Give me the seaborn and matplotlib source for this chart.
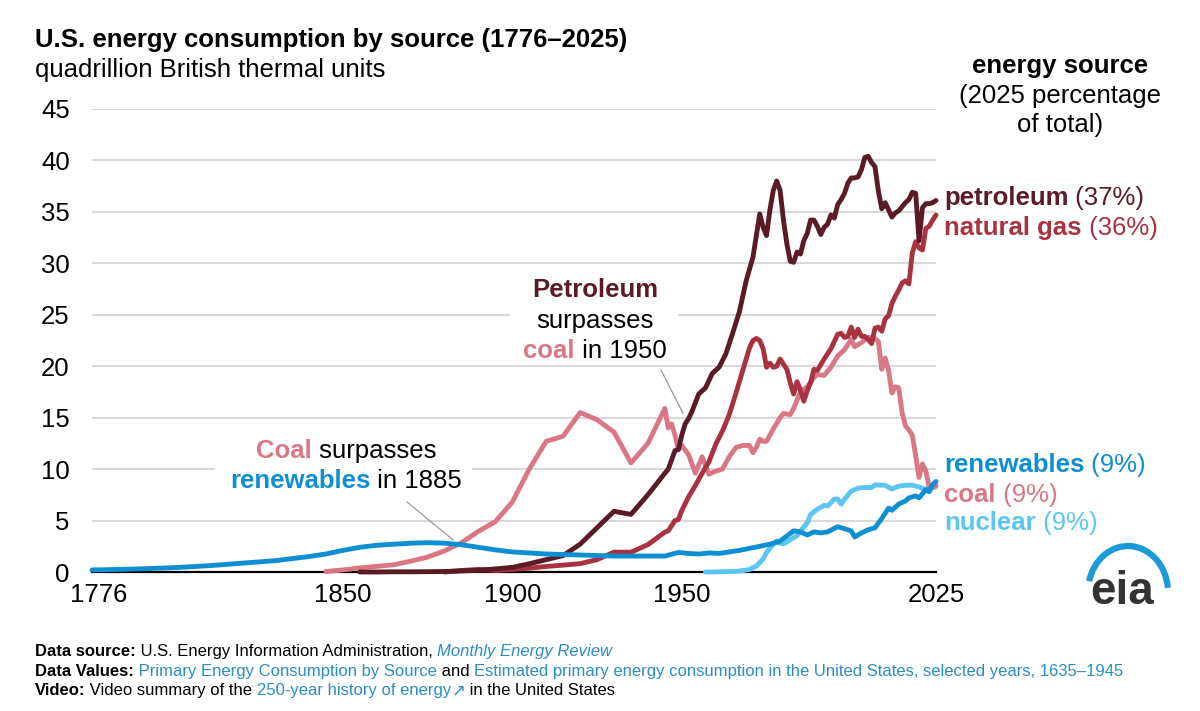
import numpy as np
import pandas as pd
import seaborn as sns
import matplotlib.pyplot as plt
import matplotlib.transforms as mtransforms
from matplotlib import font_manager
from matplotlib.patches import Rectangle, Arc

# ---- data (quadrillion Btu) ----
renew_years = [1776, 1780, 1790, 1800, 1810, 1820, 1830, 1840, 1845, 1850, 1855, 1860, 1865,
               1870, 1875, 1880, 1885, 1890, 1895, 1900, 1905, 1910, 1915, 1920, 1925, 1930,
               1935, 1940, 1945, 1949, 1952, 1955, 1958, 1961, 1964, 1967, 1970, 1973, 1976,
               1979, 1981, 1983, 1985, 1987, 1989, 1991, 1993, 1996, 1998, 2000, 2001, 2003,
               2005, 2007, 2009, 2011, 2012, 2014, 2016, 2017, 2019, 2020, 2021, 2022, 2023,
               2024, 2025]
renew_vals = [0.2, 0.22, 0.3, 0.42, 0.6, 0.85, 1.1, 1.5, 1.75, 2.1, 2.4, 2.6, 2.7,
              2.8, 2.85, 2.8, 2.65, 2.4, 2.15, 1.95, 1.85, 1.75, 1.7, 1.65, 1.6, 1.55,
              1.55, 1.55, 1.55, 1.9, 1.8, 1.75, 1.85, 1.8, 1.95, 2.1, 2.3, 2.5, 2.7,
              3.0, 3.5, 4.0, 3.9, 3.6, 3.9, 3.8, 3.9, 4.4, 4.2, 4.0, 3.4, 3.8,
              4.1, 4.3, 5.2, 6.2, 6.0, 6.6, 6.9, 7.2, 7.4, 7.2, 7.6, 8.0, 7.8,
              8.5, 8.8]

coal_years = [1845, 1850, 1855, 1860, 1865, 1870, 1875, 1880, 1885, 1890, 1895, 1900, 1905,
              1910, 1915, 1920, 1925, 1930, 1935, 1940, 1945, 1946, 1947, 1948, 1949, 1950,
              1952, 1954, 1956, 1958, 1960, 1962, 1964, 1966, 1968, 1970, 1971, 1972, 1973,
              1974, 1975, 1977, 1979, 1980, 1982, 1983, 1985, 1987, 1989, 1990, 1992, 1994,
              1996, 1998, 2000, 2001, 2003, 2005, 2007, 2008, 2009, 2010, 2011, 2012, 2013,
              2014, 2015, 2016, 2017, 2018, 2019, 2020, 2021, 2022, 2023, 2024, 2025]
coal_vals = [0.05, 0.2, 0.4, 0.55, 0.7, 1.05, 1.45, 2.05, 2.85, 3.95, 4.9, 6.8, 10.0,
             12.7, 13.2, 15.5, 14.8, 13.6, 10.6, 12.5, 15.9, 14.0, 14.4, 13.3, 11.9, 12.3,
             11.4, 9.6, 11.2, 9.5, 9.8, 10.0, 11.2, 12.1, 12.3, 12.3, 11.6, 12.1, 12.9,
             12.7, 12.7, 13.9, 15.0, 15.4, 15.3, 15.9, 17.5, 18.0, 18.9, 19.2, 19.1, 19.9,
             21.0, 21.6, 22.6, 21.9, 22.3, 22.8, 22.7, 22.4, 19.7, 20.8, 19.6, 17.4, 18.0,
             17.9, 15.5, 14.2, 13.8, 13.3, 11.3, 9.2, 10.5, 9.8, 8.2, 8.2, 8.4]

pet_years = [1855, 1860, 1865, 1870, 1875, 1880, 1885, 1890, 1895, 1900, 1905, 1910, 1915,
             1920, 1925, 1930, 1935, 1940, 1945, 1946, 1947, 1948, 1949, 1950, 1951, 1952,
             1953, 1955, 1957, 1959, 1961, 1963, 1965, 1967, 1969, 1971, 1973, 1974, 1975,
             1976, 1977, 1978, 1979, 1980, 1981, 1982, 1983, 1984, 1985, 1986, 1987, 1988,
             1989, 1990, 1991, 1992, 1993, 1994, 1995, 1996, 1997, 1998, 1999, 2000, 2001,
             2002, 2003, 2004, 2005, 2006, 2007, 2008, 2009, 2010, 2011, 2012, 2013, 2014,
             2015, 2016, 2017, 2018, 2019, 2020, 2021, 2022, 2023, 2024, 2025]
pet_vals = [0.0, 0.0, 0.02, 0.02, 0.03, 0.05, 0.1, 0.16, 0.3, 0.45, 0.8, 1.2, 1.6,
            2.7, 4.3, 5.9, 5.6, 7.5, 9.6, 10.0, 10.9, 11.8, 11.9, 13.3, 14.4, 14.9,
            15.6, 17.3, 17.9, 19.3, 19.9, 21.2, 23.2, 25.3, 28.3, 30.6, 34.8, 33.5, 32.7,
            35.2, 37.1, 38.0, 37.1, 34.2, 31.9, 30.2, 30.1, 31.1, 30.9, 32.2, 32.9, 34.2,
            34.2, 33.6, 32.8, 33.5, 33.8, 34.7, 34.4, 35.7, 36.2, 36.8, 37.8, 38.3, 38.3,
            38.4, 39.1, 40.3, 40.4, 39.8, 39.4, 37.0, 35.3, 35.9, 35.2, 34.5, 34.9, 35.1,
            35.5, 35.9, 36.2, 36.9, 36.8, 32.2, 35.4, 35.8, 35.8, 35.9, 36.1]

gas_years = [1880, 1885, 1890, 1895, 1900, 1905, 1910, 1915, 1920, 1925, 1930, 1935, 1940,
             1945, 1946, 1947, 1948, 1949, 1950, 1952, 1954, 1956, 1958, 1960, 1962, 1964,
             1966, 1968, 1970, 1971, 1972, 1973, 1974, 1975, 1976, 1977, 1978, 1979, 1980,
             1981, 1982, 1983, 1984, 1985, 1986, 1987, 1988, 1989, 1990, 1992, 1994, 1996,
             1997, 1998, 1999, 2000, 2001, 2002, 2003, 2004, 2005, 2006, 2007, 2008, 2009,
             2010, 2011, 2012, 2013, 2014, 2015, 2016, 2017, 2018, 2019, 2020, 2021, 2022,
             2023, 2024, 2025]
gas_vals = [0.0, 0.15, 0.25, 0.15, 0.25, 0.37, 0.54, 0.67, 0.81, 1.2, 1.93, 1.92, 2.66,
            3.87, 4.0, 4.5, 5.0, 5.1, 5.97, 7.3, 8.4, 9.6, 10.7, 12.4, 13.7, 15.3,
            17.4, 19.6, 21.8, 22.5, 22.7, 22.5, 21.7, 19.9, 20.3, 19.9, 20.0, 20.7, 20.2,
            19.7, 18.4, 17.3, 18.5, 17.7, 16.6, 17.6, 18.4, 19.7, 19.6, 20.7, 21.7, 23.1,
            23.2, 22.8, 22.9, 23.8, 22.8, 23.6, 22.9, 22.9, 22.6, 22.2, 23.7, 23.8, 23.4,
            24.6, 24.9, 26.1, 26.8, 27.4, 28.1, 28.3, 28.0, 31.0, 32.1, 31.5, 31.3, 33.4,
            33.6, 34.2, 34.7]

nuc_years = [1957, 1960, 1963, 1966, 1968, 1970, 1972, 1973, 1974, 1975, 1977, 1978, 1979,
             1980, 1982, 1984, 1986, 1987, 1988, 1990, 1992, 1993, 1995, 1996, 1997, 1998,
             2000, 2002, 2004, 2006, 2007, 2010, 2012, 2014, 2016, 2018, 2020, 2021, 2022,
             2023, 2024, 2025]
nuc_vals = [0.0, 0.01, 0.04, 0.06, 0.14, 0.24, 0.58, 0.91, 1.27, 1.9, 2.7, 3.0, 2.78,
            2.74, 3.13, 3.55, 4.38, 4.75, 5.59, 6.1, 6.48, 6.41, 7.08, 7.09, 6.6, 7.07,
            7.86, 8.14, 8.22, 8.21, 8.46, 8.43, 8.06, 8.34, 8.43, 8.44, 8.25, 8.13, 8.06,
            8.1, 8.2, 8.3]

sources = ["nuclear", "coal", "natural gas", "petroleum", "renewables"]
colors = {"petroleum": "#5a1a26", "natural gas": "#a83240", "coal": "#d97884",
          "renewables": "#0f8fd2", "nuclear": "#5bc6f2"}
shares = {"petroleum": "37%", "natural gas": "36%", "renewables": "9%", "coal": "9%", "nuclear": "9%"}
x_ticks = [1776, 1850, 1900, 1950, 2025]
y_ticks = list(range(0, 50, 5))

frames = []
for name, yrs, vals in [("renewables", renew_years, renew_vals), ("coal", coal_years, coal_vals),
                        ("petroleum", pet_years, pet_vals), ("natural gas", gas_years, gas_vals),
                        ("nuclear", nuc_years, nuc_vals)]:
    frames.append(pd.DataFrame({"year": yrs, "quads": vals, "source": name}))
df = pd.concat(frames, ignore_index=True)

sns.set_theme(style="white")
plt.rcParams["font.family"] = ["Liberation Sans", "DejaVu Sans"]

W, H = 1200, 711
fig = plt.figure(figsize=(12, 7.11), dpi=100)
ax = fig.add_axes([92 / W, (H - 572) / H, (936 - 92) / W, (572 - 109) / H])

sns.lineplot(data=df, x="year", y="quads", hue="source", hue_order=sources, palette=colors,
             linewidth=3.5, estimator=None, errorbar=None, legend=False, ax=ax)
for ln in ax.lines:
    ln.set_clip_on(False)
    ln.set_zorder(3)
    ln.set_solid_joinstyle("round")

ax.set_xlim(1776, 2025)
ax.set_ylim(0, 45)
ax.set_xticks(x_ticks)
ax.set_yticks(y_ticks)
ax.set_xlabel("")
ax.set_ylabel("")
ax.tick_params(axis="y", length=0, pad=16, labelsize=18.5, labelcolor="black")
ax.tick_params(axis="x", length=0, pad=8, labelsize=18.5, labelcolor="black")
# keep "1776" clear of the "0" label
first = ax.get_xticklabels()[0]
first.set_ha("left")
first.set_transform(first.get_transform() + mtransforms.ScaledTranslation(-22 / 100, 0, fig.dpi_scale_trans))
ax.yaxis.grid(True, color="#d9d9d9", lw=1.5)
ax.xaxis.grid(False)
ax.set_axisbelow(True)
for s in ["top", "right", "left"]:
    ax.spines[s].set_visible(False)
ax.spines["bottom"].set_color("black")
ax.spines["bottom"].set_linewidth(1.6)


def fp(x, y):
    return x / W, 1 - y / H


def rich(x, y, parts, size=18.5, ha="left", family=None):
    r = fig.canvas.get_renderer()
    txts = []
    for s, color, weight, style in parts:
        kw = dict(fontsize=size, color=color, weight=weight, style=style, va="baseline", ha="left")
        if family:
            kw["family"] = family
        txts.append(fig.text(0, 0, s, **kw))
    widths = [t.get_window_extent(r).width for t in txts]
    x0 = x - sum(widths) / 2 if ha == "center" else x
    for t, w in zip(txts, widths):
        t.set_position(fp(x0, y))
        x0 += w
    return txts


# title
rich(35, 47, [("U.S. energy consumption by source (1776\u20132025)", "black", "bold", "normal")])
rich(35, 77, [("quadrillion British thermal units", "black", "normal", "normal")])

# right side header
rich(1060, 73, [("energy source", "black", "bold", "normal")], ha="center")
rich(1060, 103, [("(2025 percentage", "black", "normal", "normal")], ha="center")
rich(1060, 132, [("of total)", "black", "normal", "normal")], ha="center")

label_y = {"petroleum": 205, "natural gas": 235, "renewables": 472, "coal": 502, "nuclear": 530}
for name in ["petroleum", "natural gas", "renewables", "coal", "nuclear"]:
    c = colors[name]
    rich(944, label_y[name], [(name, c, "bold", "normal"), (" (" + shares[name] + ")", c, "normal", "normal")])

# annotation boxes (white background over gridlines)
ax.add_patch(Rectangle(fp(510, 362), 168 / W, 87 / H, transform=fig.transFigure,
                       fc="white", ec="none", zorder=1, clip_on=False))
ax.add_patch(Rectangle(fp(215, 496), 257 / W, 62 / H, transform=fig.transFigure,
                       fc="white", ec="none", zorder=1, clip_on=False))

rich(595, 297, [("Petroleum", colors["petroleum"], "bold", "normal")], ha="center")
rich(595, 328, [("surpasses", "black", "normal", "normal")], ha="center")
rich(595, 358, [("coal", colors["coal"], "bold", "normal"), (" in 1950", "black", "normal", "normal")], ha="center")
rich(346, 458, [("Coal", colors["coal"], "bold", "normal"), (" surpasses", "black", "normal", "normal")], ha="center")
rich(346, 488, [("renewables", colors["renewables"], "bold", "normal"), (" in 1885", "black", "normal", "normal")], ha="center")

lead = dict(arrowstyle="-", color="#9a9a9a", lw=0.9, shrinkA=0, shrinkB=0)
ax.annotate("", xy=(1950.4, 15.4), xycoords="data", xytext=(661, H - 370),
            textcoords="figure pixels", arrowprops=lead)
ax.annotate("", xy=(1882.6, 3.1), xycoords="data", xytext=(407, H - 502),
            textcoords="figure pixels", arrowprops=lead)

# eia logo
fig.text(*fp(1090, 604), "eia", fontsize=33, weight="bold", color="#333333", va="baseline", ha="left")
fig.add_artist(Arc(fp(1128, 592), 80 / W, 92 / H, theta1=10, theta2=155, transform=fig.transFigure,
                   color="#1a9ad6", lw=4.5))

# footer
names = {f.name for f in font_manager.fontManager.ttflist}
foot_fam = ["Liberation Sans Narrow", "DejaVu Sans"] if "Liberation Sans Narrow" in names else ["Liberation Sans", "DejaVu Sans"]
fs = 13 if "Liberation Sans Narrow" in names else 12
link = "#2a8dc5"
rich(35, 656, [("Data source:", "black", "bold", "normal"),
               (" U.S. Energy Information Administration, ", "black", "normal", "normal"),
               ("Monthly Energy Review", link, "normal", "italic")], size=fs, family=foot_fam)
rich(35, 676, [("Data Values:", "black", "bold", "normal"),
               (" Primary Energy Consumption by Source", link, "normal", "normal"),
               (" and ", "black", "normal", "normal"),
               ("Estimated primary energy consumption in the United States, selected years, 1635\u20131945", link, "normal", "normal")],
     size=fs, family=foot_fam)
rich(35, 695, [("Video:", "black", "bold", "normal"),
               (" Video summary of the ", "black", "normal", "normal"),
               ("250-year history of energy", link, "normal", "normal"),
               ("\u2197", link, "normal", "normal"),
               (" in the United States", "black", "normal", "normal")], size=fs, family=foot_fam)

fig.savefig("out.png", dpi=100)
